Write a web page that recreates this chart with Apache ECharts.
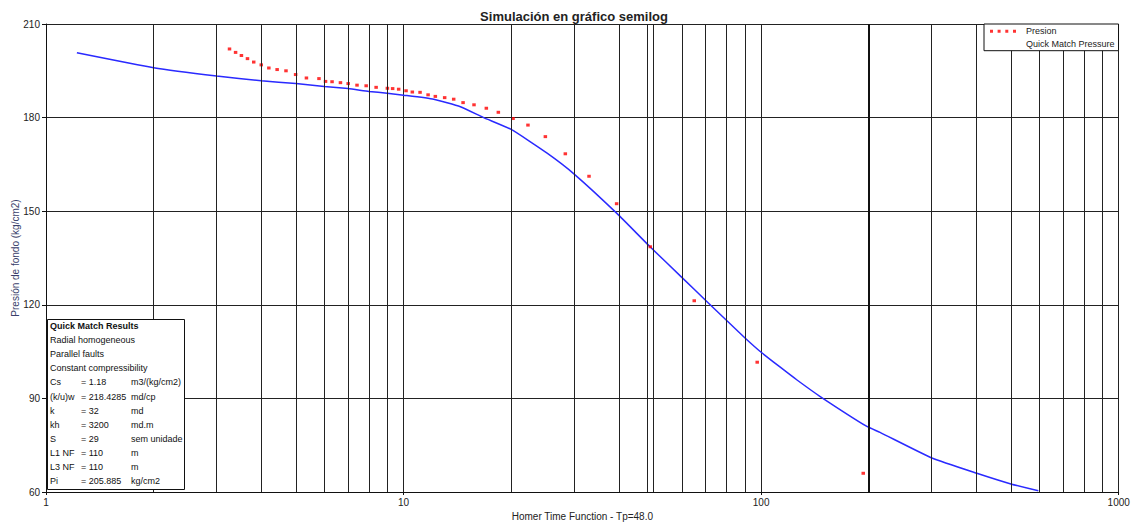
<!DOCTYPE html>
<html>
<head>
<meta charset="utf-8">
<script src="https://cdn.jsdelivr.net/npm/echarts@6/dist/echarts.min.js"></script>
<style>html,body{margin:0;padding:0;background:#fff}#c{width:1133px;height:523px}</style>
</head>
<body>
<div id="c"></div>
<script>
// ---- Data ----
var presionX = [3.26,3.39,3.52,3.66,3.81,4.00,4.20,4.43,4.69,4.99,5.35,5.80,6.05,6.31,6.66,7.00,7.41,7.86,8.38,9.01,9.32,9.69,10.16,10.58,11.12,11.71,12.27,13.03,13.81,14.67,15.74,17.04,18.41,20.24,22.28,24.92,28.34,33.01,39.43,48.98,65.0,97.5,193];
var presionY = [202.0,200.9,199.9,198.9,197.8,196.9,195.9,195.4,195.0,193.8,192.7,192.5,191.6,191.5,191.2,190.9,190.4,190.2,189.7,189.4,189.3,189.1,188.6,188.2,188.1,187.3,186.8,186.4,185.9,184.8,184.1,183.0,181.7,179.7,177.6,173.9,168.4,161.2,152.4,138.6,121.3,101.6,66.0];
var matchX = [1.22,2,3,4,5,6,7,8,9,10,12.14,14.42,16.75,20,25.2,30,39.5,48.9,60,71.3,79.7,90.3,100,113.1,126,146.3,197.6,215,301.5,401,502,596];
var matchY = [200.8,196.0,193.3,191.8,190.9,190.0,189.3,188.4,187.8,187.2,185.9,183.5,180.0,176.2,168.6,161.9,149.3,138.6,128.8,120.5,115.2,109.3,104.8,100.0,95.9,90.6,81.0,79.1,70.8,66.0,62.5,60.4];
var minorGrid = [2,3,4,5,6,7,8,9,20,30,40,50,60,70,80,90,300,400,500,600,700,800,900];
var boldGrid = [200];
var tpLine = [48];
var infoTitle = 'Quick Match Results';
var infoModel = ['Radial homogeneous','Parallel faults','Constant compressibility'];
var infoNames = ['Cs','(k/u)w','k','kh','S','L1 NF','L3 NF','Pi'];
var infoValues = ['= 1.18','= 218.4285','= 32','= 3200','= 29','= 110','= 110','= 205.885'];
var infoUnits = ['m3/(kg/cm2)','md/cp','md','md.m','sem unidade','m','m','kg/cm2'];

function pairs(xs, ys){ return xs.map(function(x,i){ return [x, ys[i]]; }); }

// ---- Info box graphic ----
var font = '9px "Liberation Sans", Arial, sans-serif';
var info = [];
info.push({type:'rect', shape:{x:47.5, y:319.5, width:137, height:170}, style:{fill:'#fff', stroke:'#111', lineWidth:1}, z:100});
var rowY = 326, rowH = 14.1;
info.push({type:'text', x:50, y:rowY, style:{text:infoTitle, font:'bold 9px "Liberation Sans", Arial, sans-serif', fill:'#111', verticalAlign:'middle'}, z:101});
infoModel.forEach(function(t,i){
  info.push({type:'text', x:50, y:rowY+rowH*(i+1), style:{text:t, font:font, fill:'#111', verticalAlign:'middle'}, z:101});
});
infoNames.forEach(function(t,i){
  var yy = rowY + rowH*(i+4);
  info.push({type:'text', x:50, y:yy, style:{text:t, font:font, fill:'#111', verticalAlign:'middle'}, z:101});
  info.push({type:'text', x:81, y:yy, style:{text:infoValues[i], font:font, fill:'#111', verticalAlign:'middle'}, z:101});
  info.push({type:'text', x:131, y:yy, style:{text:infoUnits[i], font:font, fill:'#111', verticalAlign:'middle'}, z:101});
});

function vlines(arr){ return arr.map(function(v){ return {xAxis:v}; }); }

var chart = echarts.init(document.getElementById('c'), null, {renderer:'svg'});
chart.setOption({
  animation:false,
  backgroundColor:'#fff',
  textStyle:{fontFamily:'"Liberation Sans", Arial, sans-serif'},
  title:{text:'Simulación en gráfico semilog', left:569, top:5, textAlign:'center',
    textStyle:{fontSize:13, fontWeight:'bold', color:'#222'}},
  legend:{
    orient:'vertical', left:984, top:24,
    padding:[2.3,4,2,5], itemGap:2.4, itemWidth:26, itemHeight:3,
    backgroundColor:'#fff', borderColor:'#111', borderWidth:1, borderRadius:0,
    textStyle:{fontSize:9, color:'#222', lineHeight:10, padding:[0,0,0,5]},
    data:[
      {name:'Presion', icon:'path://M0,0h3v3h-3z M7.6,0h3v3h-3z M15.3,0h3v3h-3z M23,0h3v3h-3z', itemStyle:{color:'#ff0000'}},
      {name:'Quick Match Pressure', itemStyle:{opacity:0}, lineStyle:{opacity:0}}
    ],
    z:50
  },
  grid:{left:46, right:14.3, top:24, bottom:31, containLabel:false, outerBoundsMode:'none'},
  xAxis:{
    type:'log', logBase:10, min:1, max:1000,
    name:'Homer Time Function - Tp=48.0', nameLocation:'middle', nameGap:19,
    nameTextStyle:{fontSize:10, color:'#222'},
    axisLine:{lineStyle:{color:'#111', width:1}},
    axisTick:{show:true, length:3, lineStyle:{color:'#111'}},
    axisLabel:{fontSize:10, color:'#222', margin:5, formatter:function(v){ return String(Math.round(v)); }},
    splitLine:{show:true, lineStyle:{color:'#222', width:1}},
    minorTick:{show:false}, minorSplitLine:{show:false}
  },
  yAxis:{
    type:'value', min:60, max:210, interval:30,
    name:'Presión de fondo (kg/cm2)', nameLocation:'middle', nameGap:26, nameMoveOverlap:false,
    nameTextStyle:{fontSize:10, color:'#3a3f6b'},
    axisLine:{show:true, lineStyle:{color:'#111', width:1}},
    axisTick:{show:true, length:4, lineStyle:{color:'#111'}},
    axisLabel:{fontSize:10, color:'#222', margin:6},
    splitLine:{show:true, lineStyle:{color:'#222', width:1}}
  },
  series:[
    {name:'grid', type:'line', data:[], silent:true, z:1,
      markLine:{silent:true, symbol:'none', label:{show:false}, animation:false,
        lineStyle:{color:'#222', width:1, type:'solid'},
        emphasis:{disabled:true},
        data: vlines(minorGrid).concat(vlines(tpLine)).concat(boldGrid.map(function(v){ return {xAxis:v, lineStyle:{width:2, color:'#111'}}; }))
      }},
    {name:'Quick Match Pressure', type:'line', data:pairs(matchX, matchY), showSymbol:false, symbol:'none',
      smooth:0.15, lineStyle:{color:'#2a2aff', width:1.5}, itemStyle:{color:'#2a2aff'}, z:3},
    {name:'Presion', type:'scatter', data:pairs(presionX, presionY), symbol:'rect', symbolSize:[3.5,3],
      itemStyle:{color:'#ff0000'}, z:4}
  ],
  graphic:info
});
</script>
</body>
</html>
